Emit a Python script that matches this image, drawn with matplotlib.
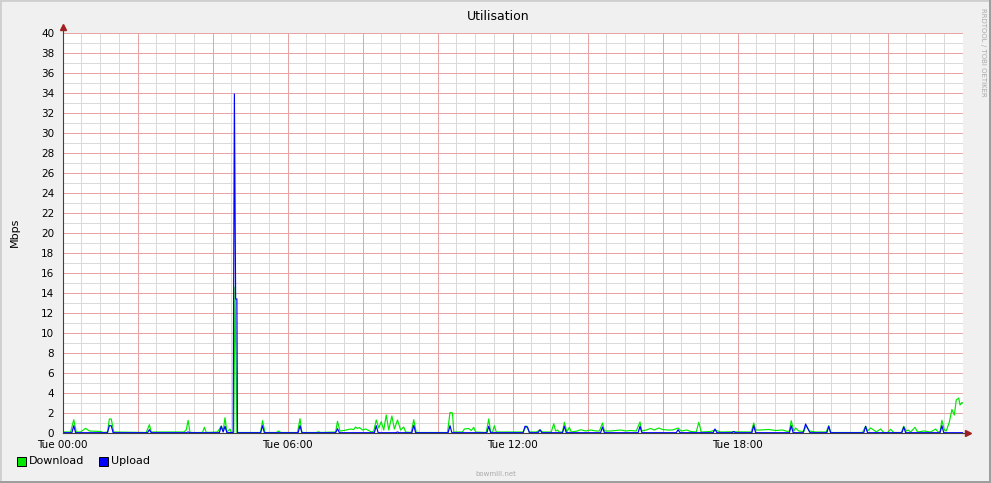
import matplotlib
matplotlib.use('Agg')
import matplotlib.pyplot as plt
from matplotlib.patches import Rectangle

# minutes since Tue 00:00 and Mbps
download_min = [0, 3, 13, 18, 22, 29, 37, 43, 61, 66, 72, 75, 78, 82,
                134, 139, 142, 194, 198, 201, 204, 224, 227, 230,
                248, 254, 257, 260, 263, 268, 270, 274, 276, 278, 279,
                317, 320, 324, 342, 346, 349, 376, 380, 383, 406, 410, 413,
                437, 440, 444, 450, 454, 461, 466, 469, 472, 475, 480, 485, 490, 494, 498,
                502, 506, 510, 514, 518, 522, 527, 531, 536, 541, 546, 549, 558, 562, 566,
                616, 620, 624, 626, 640, 643, 650, 654, 658, 661, 678, 682, 685, 688, 691, 694,
                737, 742, 747, 758, 764, 768, 782, 786, 789, 792, 795, 800, 803, 807, 811, 814,
                824, 829, 837, 845, 854, 859, 864, 867, 877, 893, 901, 909, 918, 924, 927,
                934, 941, 947, 954, 960, 968, 976, 985, 990, 999, 1005, 1014, 1018, 1022,
                1037, 1044, 1053, 1074, 1093, 1102, 1106, 1109, 1117, 1130, 1141, 1152,
                1160, 1163, 1166, 1170, 1173, 1178, 1186, 1190, 1195, 1205, 1222, 1226, 1229,
                1280, 1285, 1288, 1293, 1298, 1302, 1309, 1314, 1320, 1325, 1330,
                1342, 1346, 1350, 1353, 1357, 1364, 1368, 1378, 1389, 1397, 1401, 1404,
                1407, 1411, 1414, 1419, 1423, 1427, 1430, 1434, 1436, 1439, 1440]
download_mbps = [0.2, 0.1, 0.1, 1.33, 0.1, 0.1, 0.47, 0.2, 0.15, 0.05, 0.1, 1.4, 1.4, 0.1,
                 0.05, 0.83, 0.1, 0.1, 0.3, 1.27, 0.05, 0.05, 0.57, 0.05,
                 0.1, 0.7, 0.2, 1.53, 0.1, 0.4, 0.05, 0.05, 14.6, 5.8, 0.05,
                 0.05, 1.23, 0.05, 0.05, 0.2, 0.05, 0.05, 1.43, 0.05, 0.05, 0.12, 0.05,
                 0.1, 1.17, 0.2, 0.25, 0.3, 0.4, 0.35, 0.6, 0.45, 0.55, 0.3, 0.4, 0.25, 0.1, 0.2,
                 1.3, 0.5, 1.13, 0.3, 1.8, 0.3, 1.7, 0.4, 1.3, 0.3, 0.6, 0.1, 0.05, 1.33, 0.05,
                 0.05, 2.05, 2.0, 0.1, 0.1, 0.4, 0.45, 0.25, 0.57, 0.1, 0.05, 1.4, 0.1, 0.1, 0.73, 0.1,
                 0.1, 0.7, 0.1, 0.1, 0.3, 0.1, 0.1, 0.93, 0.2, 0.3, 0.1, 0.1, 1.07, 0.1, 0.57, 0.1,
                 0.2, 0.33, 0.2, 0.3, 0.2, 0.2, 1.0, 0.2, 0.2, 0.3, 0.2, 0.25, 0.2, 1.1, 0.2,
                 0.3, 0.45, 0.3, 0.5, 0.35, 0.3, 0.3, 0.5, 0.2, 0.3, 0.15, 0.1, 1.07, 0.1,
                 0.15, 0.3, 0.1, 0.12, 0.1, 0.1, 1.0, 0.3, 0.3, 0.35, 0.25, 0.3,
                 0.15, 0.2, 1.23, 0.2, 0.5, 0.2, 0.15, 0.73, 0.2, 0.1, 0.1, 0.73, 0.05,
                 0.05, 0.67, 0.2, 0.5, 0.3, 0.1, 0.4, 0.05, 0.05, 0.37, 0.05,
                 0.05, 0.67, 0.2, 0.3, 0.1, 0.57, 0.1, 0.2, 0.1, 0.4, 0.1, 0.1,
                 1.27, 0.3, 0.2, 1.1, 2.35, 1.8, 3.3, 3.5, 2.8, 3.05, 3.0]

upload_min = [0, 15, 18, 21, 72, 75, 78, 81, 136, 139, 142, 198, 201, 204,
              251, 254, 257, 260, 263, 273, 275, 277, 279, 280,
              317, 320, 323, 377, 380, 383, 437, 440, 443, 499, 502, 505,
              533, 536, 539, 559, 562, 565, 617, 620, 623, 679, 682, 685,
              737, 740, 744, 747, 761, 764, 767, 800, 803, 806, 861, 864, 867,
              921, 924, 927, 982, 985, 988, 1041, 1044, 1047, 1071, 1074, 1077,
              1103, 1106, 1109, 1163, 1166, 1169, 1185, 1189, 1192, 1196,
              1223, 1226, 1229, 1282, 1285, 1288, 1343, 1346, 1349, 1404, 1407, 1410, 1440]
upload_mbps = [0.03, 0.03, 0.73, 0.03, 0.03, 0.73, 0.73, 0.03, 0.03, 0.33, 0.03, 0.03, 0.1, 0.03,
               0.03, 0.67, 0.1, 0.67, 0.03, 0.05, 33.9, 13.4, 13.4, 0.03,
               0.03, 0.73, 0.03, 0.03, 0.73, 0.03, 0.03, 0.43, 0.03, 0.03, 0.73, 0.03,
               0.03, 0.1, 0.03, 0.03, 0.77, 0.03, 0.03, 0.73, 0.03, 0.03, 0.67, 0.03,
               0.03, 0.67, 0.6, 0.03, 0.03, 0.33, 0.03, 0.03, 0.67, 0.03, 0.03, 0.6, 0.03,
               0.03, 0.67, 0.03, 0.03, 0.33, 0.03, 0.03, 0.4, 0.03, 0.03, 0.15, 0.03,
               0.03, 0.73, 0.03, 0.03, 0.73, 0.03, 0.03, 0.9, 0.5, 0.03,
               0.03, 0.67, 0.03, 0.03, 0.67, 0.03, 0.03, 0.6, 0.03, 0.03, 0.73, 0.03, 0.03]

x_ticks = [0, 360, 720, 1080]
x_labels = ['Tue 00:00', 'Tue 06:00', 'Tue 12:00', 'Tue 18:00']
y_ticks = list(range(0, 41, 2))

W, H = 991, 483
fig = plt.figure(figsize=(W / 100, H / 100), dpi=100, facecolor='#f0f0f0')
ax = fig.add_axes([62.5 / W, 50 / H, 900 / W, 400 / H])
ax.set_facecolor('white')

# grid: grey every 30 min / 1 Mbps, red every 2 h / 2 Mbps
grey, red = '#dadada', '#e8a4a4'
for m in range(30, 1441, 30):
    if m % 120:
        ax.axvline(m, color=grey, lw=0.72, zorder=1, snap=True)
for v in range(1, 40, 2):
    ax.axhline(v, color=grey, lw=0.72, zorder=1, snap=True)
for m in range(120, 1441, 120):
    ax.axvline(m, color=red, lw=0.72, zorder=1.5, snap=True)
for v in range(2, 41, 2):
    ax.axhline(v, color=red, lw=0.72, zorder=1.5, snap=True)

ax.plot(download_min, download_mbps, color='#00e800', lw=0.85, zorder=3)
ax.plot(upload_min, upload_mbps, color='#0000ff', lw=0.85, zorder=4)

ax.set_xlim(0, 1440)
ax.set_ylim(0, 40)
ax.set_xticks(x_ticks)
ax.set_xticklabels(x_labels)
ax.set_yticks(y_ticks)
ax.tick_params(axis='both', which='both', length=0, labelsize=7.5, colors='#000000')
ax.tick_params(axis='x', pad=5)
ax.tick_params(axis='y', pad=6)

for s in ['top', 'right']:
    ax.spines[s].set_visible(False)
for s in ['left', 'bottom']:
    ax.spines[s].set_color('#404040')
    ax.spines[s].set_linewidth(0.8)
    ax.spines[s].set_zorder(5)

# axis arrows
ax.plot([0, 0], [1.0, 1.015], transform=ax.transAxes, color='#404040', lw=0.8, clip_on=False)
ax.plot([1.0, 1.006], [0, 0], transform=ax.transAxes, color='#404040', lw=0.8, clip_on=False)
ax.plot([0], [1.015], marker='^', ms=4, color='#a02020', transform=ax.transAxes, clip_on=False)
ax.plot([1.006], [0], marker='>', ms=4, color='#a02020', transform=ax.transAxes, clip_on=False)

fig.text(498 / W, 1 - 17 / H, 'Utilisation', ha='center', va='center', fontsize=9)
fig.text(15 / W, 1 - 232 / H, 'Mbps', ha='center', va='center', rotation=90, fontsize=8)
fig.text(983 / W, 1 - 8 / H, 'RRDTOOL / TOBI OETIKER', ha='center', va='top',
         rotation=270, fontsize=5, color='#aaaaaa')
fig.text(496 / W, 1 - 474 / H, 'bowmill.net', ha='center', va='center', fontsize=5, color='#aaaaaa')

# legend swatches
fig.add_artist(Rectangle((17 / W, 1 - 466 / H), 9 / W, 9 / H, transform=fig.transFigure,
                         facecolor='#00e800', edgecolor='black', lw=0.7))
fig.text(29 / W, 1 - 461 / H, 'Download', va='center', fontsize=8)
fig.add_artist(Rectangle((99 / W, 1 - 466 / H), 9 / W, 9 / H, transform=fig.transFigure,
                         facecolor='#0000ff', edgecolor='black', lw=0.7))
fig.text(111 / W, 1 - 461 / H, 'Upload', va='center', fontsize=8)

# outer shading frame
fig.add_artist(Rectangle((0, 0), 1, 1, transform=fig.transFigure, fill=False,
                         edgecolor='#cfcfcf', lw=2))
fig.add_artist(Rectangle((0, 0), 1, 2 / H, transform=fig.transFigure, color='#9e9e9e', lw=0))
fig.add_artist(Rectangle((1 - 2 / W, 0), 2 / W, 1, transform=fig.transFigure, color='#9e9e9e', lw=0))

fig.savefig('out.png', dpi=100, facecolor=fig.get_facecolor())
